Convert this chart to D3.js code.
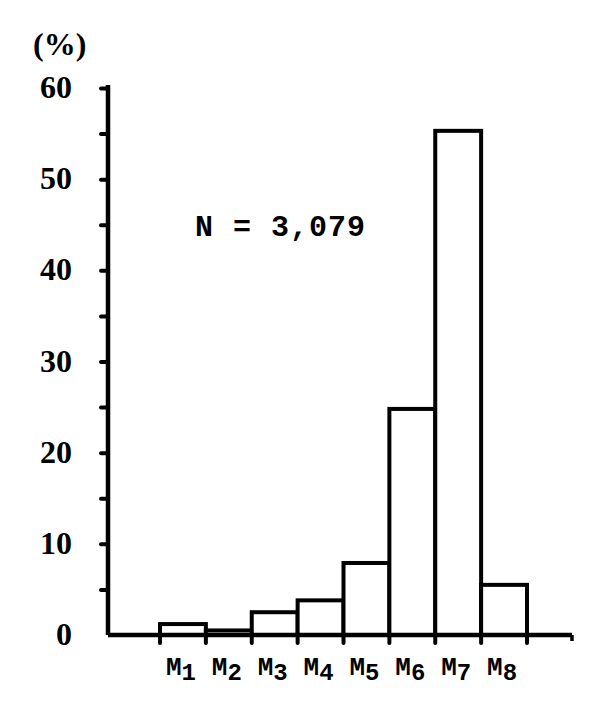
<!DOCTYPE html>
<html>
<head>
<meta charset="utf-8">
<script src="https://cdn.jsdelivr.net/npm/d3@7"></script>
<style>
	body { margin: 0; background: #fff; }
	.ylab { font-family: 'Liberation Serif', serif; font-weight: bold; font-size: 32px; }
	.mono { font-family: 'Liberation Mono', monospace; font-weight: bold; }
</style>
</head>
<body>
<script>
var categories = ['1', '2', '3', '4', '5', '6', '7', '8'];
var percents = [1.2, 0.5, 2.5, 3.8, 7.9, 24.8, 55.3, 5.5];
var yTicks = [0, 5, 10, 15, 20, 25, 30, 35, 40, 45, 50, 55, 60];
var yLabels = [0, 10, 20, 30, 40, 50, 60];
var sampleNote = 'N = 3,079';

var width = 600, height = 712;

var svg = d3.select('body')
	.append('svg')
	.attr('width', width)
	.attr('height', height);

var y = d3.scaleLinear().domain([0, 60]).range([635, 88]);
var x = d3.scaleBand().domain(categories).range([160, 527]).padding(0);

// y axis
var yAxis = d3.axisLeft(y)
	.tickValues(yTicks)
	.tickSize(7)
	.tickPadding(29)
	.tickFormat(function(d) { return yLabels.indexOf(d) >= 0 ? d : ''; });

var gy = svg.append('g')
	.attr('transform', 'translate(108,0)')
	.call(yAxis);
gy.select('.domain').remove();
gy.selectAll('.tick line').attr('stroke', '#000').attr('stroke-width', 4)
	.attr('stroke-linecap', 'round');
gy.selectAll('.tick').filter(function(d) { return d === 0; }).select('line').remove();
gy.selectAll('.tick text').attr('class', 'ylab').attr('fill', '#000').attr('dy', '0.3em');

svg.append('line')
	.attr('x1', 108).attr('x2', 108)
	.attr('y1', y(60) - 3).attr('y2', y(0))
	.attr('stroke', '#000').attr('stroke-width', 4.5);

svg.append('text')
	.attr('class', 'ylab')
	.attr('x', 33).attr('y', 55)
	.text('(%)');

// bars
svg.selectAll('rect.bar')
	.data(percents)
	.enter()
	.append('rect')
	.attr('class', 'bar')
	.attr('x', function(d, i) { return x(categories[i]); })
	.attr('y', function(d) { return y(d); })
	.attr('width', x.bandwidth())
	.attr('height', function(d) { return y(0) - y(d); })
	.attr('fill', '#fff')
	.attr('stroke', '#000')
	.attr('stroke-width', 4);

// x axis baseline and ticks at bar edges
svg.append('line')
	.attr('x1', 108).attr('x2', 572)
	.attr('y1', y(0)).attr('y2', y(0))
	.attr('stroke', '#000').attr('stroke-width', 4.5);

var edges = categories.map(function(c) { return x(c); }).concat([x.range()[1]]);
svg.selectAll('line.xtick')
	.data(edges)
	.enter()
	.append('line')
	.attr('class', 'xtick')
	.attr('x1', function(d) { return d; })
	.attr('x2', function(d) { return d; })
	.attr('y1', y(0))
	.attr('y2', y(0) + 8)
	.attr('stroke', '#000').attr('stroke-width', 4)
	.attr('stroke-linecap', 'round');
svg.append('line')
	.attr('x1', 572).attr('x2', 572)
	.attr('y1', y(0)).attr('y2', y(0) + 6)
	.attr('stroke', '#000').attr('stroke-width', 3.5);

// category labels M1..M8
var labels = svg.selectAll('text.cat')
	.data(categories)
	.enter()
	.append('text')
	.attr('class', 'cat mono')
	.attr('text-anchor', 'middle')
	.attr('x', function(d) { return x(d) + x.bandwidth() / 2 - 2; })
	.attr('y', 675)
	.attr('font-size', 26);
labels.append('tspan').text('M');
labels.append('tspan').attr('dy', 5).attr('font-size', 24).text(function(d) { return d; });

svg.append('text')
	.attr('class', 'mono')
	.attr('x', 195).attr('y', 236)
	.attr('font-size', 30)
	.attr('textLength', 170)
	.text(sampleNote);
</script>
</body>
</html>
